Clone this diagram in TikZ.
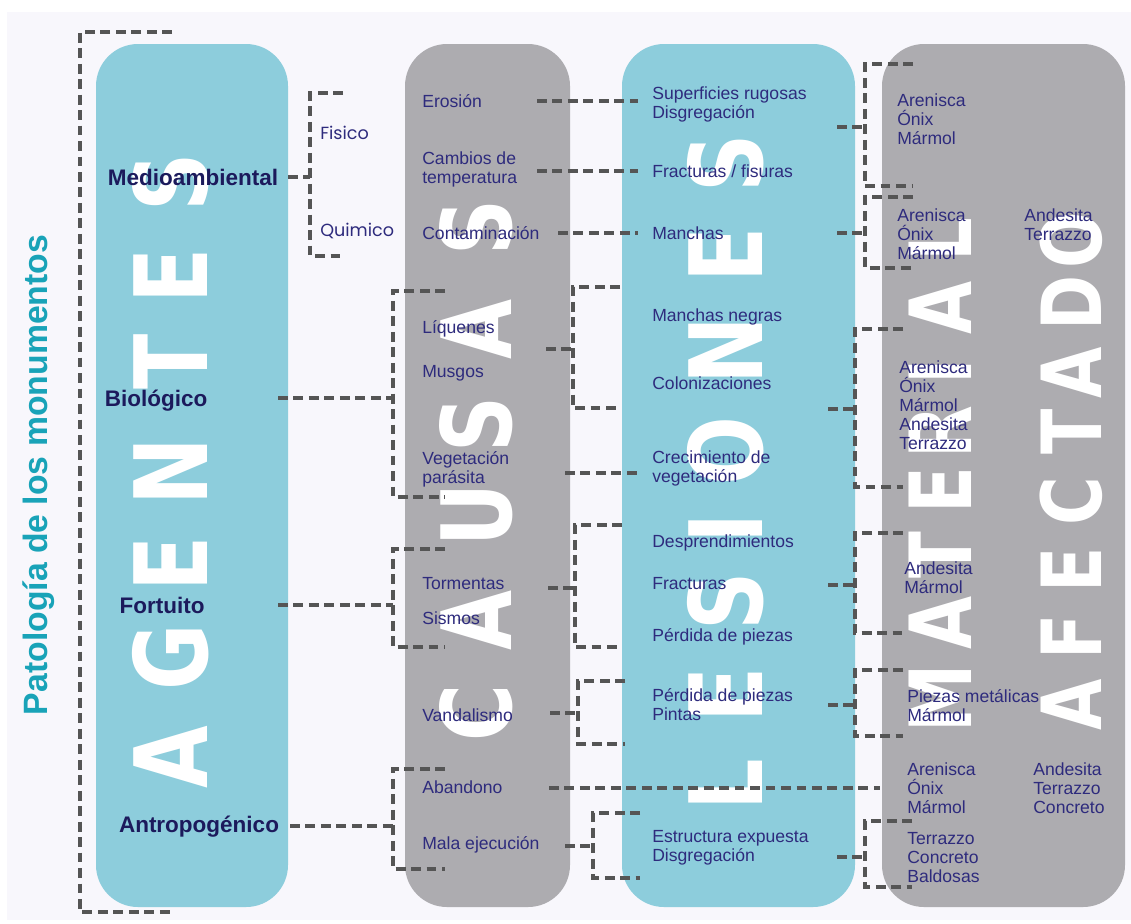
\documentclass[tikz,border=0pt]{standalone}
\usepackage{fontspec}
\setmainfont{Liberation Sans}
\newfontfamily\popfont{Poppins}
\newfontfamily\heavyfont{DejaVu Sans}
\definecolor{colblue}{HTML}{8DCDDC}
\definecolor{colgray}{HTML}{ADACB0}
\definecolor{pagebg}{HTML}{F8F7FC}
\definecolor{dashgray}{HTML}{555555}
\definecolor{agentink}{HTML}{1C1A5C}
\definecolor{labelink}{HTML}{2E2B7D}
\definecolor{titleteal}{HTML}{19A3B8}

\begin{document}
\begin{tikzpicture}[
  x=0.025cm, y=-0.025cm,
  col/.style={rounded corners=1.05cm},
  lbl/.style={anchor=west, align=left, inner sep=0pt, text=labelink,
    font=\fontsize{12.5}{13.5}\selectfont},
  agent/.style={anchor=base, inner sep=0pt, text=agentink,
    font=\bfseries\fontsize{16}{18}\selectfont},
  big/.style={rotate=90, xscale=0.8, anchor=base, inner sep=0pt, text=white},
  dashline/.style={draw=dashgray, line width=2.4pt, dash pattern=on 7pt off 4pt},
]
  \useasboundingbox (0,0) rectangle (1131,923);
  \fill[pagebg] (7,12) rectangle (1131,920);

  \fill[colblue, col] (96,44)  rectangle (288,907);
  \fill[colgray, col] (405,44) rectangle (570,907);
  \fill[colblue, col] (622,44) rectangle (855,907);
  \fill[colgray, col] (882,44) rectangle (1125,907);

  \foreach \l/\y [count=\i] in {A/757,G/657,E/564,N/472,T/362,E/276,S/182}
    \node[big, font=\heavyfont\bfseries\fontsize{72}{72}\selectfont] (ag\i) at (207,\y) {\l};
  \foreach \l/\y [count=\i] in {C/713,A/620,U/515,S/425,A/329,S/228}
    \node[big, font=\heavyfont\bfseries\fontsize{69}{69}\selectfont] (ca\i) at (511,\y) {\l};
  \foreach \l/\y [count=\i] in {L/785,E/695,S/601,I/528,O/451,N/351,E/255,S/163}
    \node[big, font=\heavyfont\bfseries\fontsize{72}{72}\selectfont] (le\i) at (762,\y) {\l};
  \foreach \l/\y [count=\i] in {M/698,A/623,T/555,E/490,R/432,I/372,A/308,L/240}
    \node[big, font=\heavyfont\bfseries\fontsize{61}{61}\selectfont] (ma\i) at (971,\y) {\l};
  \foreach \l/\y [count=\i] in {A/705,F/637,E/570,C/501,T/432,A/373,D/303,O/240}
    \node[big, font=\heavyfont\bfseries\fontsize{59}{59}\selectfont] (af\i) at (1101,\y) {\l};

  \node[rotate=90, anchor=base, inner sep=0pt, text=titleteal,
    font=\bfseries\fontsize{24}{24}\selectfont] (title) at (48,475) {Patología de los monumentos};

  \node[agent] (medio) at (193,185) {Medioambiental};
  \node[agent] (bio)   at (156,406) {Biológico};
  \node[agent] (fort)  at (162,613) {Fortuito};
  \node[agent] (antro) at (199,832) {Antropogénico};

  \node[lbl, font=\popfont\fontsize{12.5}{13.5}\selectfont] (fis) at (320,133) {Fisico};
  \node[lbl, font=\popfont\fontsize{12.5}{13.5}\selectfont] (qui) at (320,231) {Quimico};

  \node[lbl] (eros)  at (422,101)   {Erosión};
  \node[lbl] (camb)  at (422,169.5) {Cambios de\\temperatura};
  \node[lbl] (cont)  at (422,233)   {Contaminación};
  \node[lbl] (liq)   at (422,329)   {Líquenes};
  \node[lbl] (mus)   at (422,373)   {Musgos};
  \node[lbl] (veg)   at (422,469)   {Vegetación\\parásita};
  \node[lbl] (torm)  at (422,584)   {Tormentas};
  \node[lbl] (sism)  at (422,618)   {Sismos};
  \node[lbl] (vand)  at (422,715)   {Vandalismo};
  \node[lbl] (aban)  at (422,787)   {Abandono};
  \node[lbl] (mala)  at (422,845)   {Mala ejecución};

  \node[lbl] (sup)   at (652,104.5) {Superficies rugosas\\Disgregación};
  \node[lbl] (frfi)  at (652,171)   {Fracturas / fisuras};
  \node[lbl] (man)   at (652,233)   {Manchas};
  \node[lbl] (mneg)  at (652,317)   {Manchas negras};
  \node[lbl] (colo)  at (652,383)   {Colonizaciones};
  \node[lbl] (crec)  at (652,468.5) {Crecimiento de\\vegetación};
  \node[lbl] (desp)  at (652,543)   {Desprendimientos};
  \node[lbl] (frac)  at (652,584)   {Fracturas};
  \node[lbl] (perd)  at (652,637)   {Pérdida de piezas};
  \node[lbl] (perdp) at (652,705)   {Pérdida de piezas\\Pintas};
  \node[lbl] (estr)  at (652,847.5) {Estructura expuesta\\Disgregación};

  \node[lbl] (mat1)  at (897,119)   {Arenisca\\Ónix\\Mármol};
  \node[lbl] (mat2)  at (897,234)   {Arenisca\\Ónix\\Mármol};
  \node[lbl] (mat2b) at (1024,224.5) {Andesita\\Terrazzo};
  \node[lbl] (mat3)  at (899,405)   {Arenisca\\Ónix\\Mármol\\Andesita\\Terrazzo};
  \node[lbl] (mat4)  at (904,577.5) {Andesita\\Mármol};
  \node[lbl] (mat5)  at (907,705.5) {Piezas metálicas\\Mármol};
  \node[lbl] (mat6)  at (907,788)   {Arenisca\\Ónix\\Mármol};
  \node[lbl] (mat6b) at (1033,788)  {Andesita\\Terrazzo\\Concreto};
  \node[lbl] (mat7)  at (907,858)   {Terrazzo\\Concreto\\Baldosas};

  \draw[dashline] (172,32) -- (80,32) -- (80,912) -- (172,912);

  \draw[dashline] (288,177) -- (310,177);
  \draw[dashline] (343,93) -- (310,93) -- (310,256) -- (343,256);
  \draw[dashline] (eros -| 537,0) -- (eros -| 638,0);
  \draw[dashline] (frfi -| 537,0) -- (frfi -| 638,0);
  \draw[dashline] (cont -| 558,0) -- (cont -| 638,0);

  \draw[dashline] (278,398) -- (393,398);
  \draw[dashline] (445,291) -- (393,291) -- (393,497) -- (445,497);
  \draw[dashline] (546,349) -- (573,349);
  \draw[dashline] (620,287) -- (573,287) -- (573,408) -- (620,408);
  \draw[dashline] (565,473) -- (637,473);

  \draw[dashline] (278,605) -- (393,605);
  \draw[dashline] (445,549) -- (393,549) -- (393,647) -- (445,647);
  \draw[dashline] (548,588) -- (575,588);
  \draw[dashline] (622,525) -- (575,525) -- (575,647) -- (622,647);
  \draw[dashline] (550,713) -- (578,713);
  \draw[dashline] (625,681) -- (578,681) -- (578,744) -- (625,744);

  \draw[dashline] (290,826) -- (393,826);
  \draw[dashline] (445,769) -- (393,769) -- (393,869) -- (445,869);
  \draw[dashline] (549,788) -- (880,788);
  \draw[dashline] (565,846) -- (593,846);
  \draw[dashline] (640,813) -- (593,813) -- (593,878) -- (640,878);

  \draw[dashline] (837,127) -- (865,127);
  \draw[dashline] (913,64) -- (865,64) -- (865,186) -- (913,186);
  \draw[dashline] (man -| 837,0) -- (man -| 865,0);
  \draw[dashline] (913,197) -- (865,197) -- (865,268) -- (913,268);
  \draw[dashline] (828,409) -- (855,409);
  \draw[dashline] (903,329) -- (855,329) -- (855,487) -- (903,487);
  \draw[dashline] (828,585) -- (855,585);
  \draw[dashline] (903,533) -- (855,533) -- (855,633) -- (903,633);
  \draw[dashline] (perdp -| 828,0) -- (perdp -| 855,0);
  \draw[dashline] (903,670) -- (855,670) -- (855,736) -- (903,736);
  \draw[dashline] (837,857) -- (865,857);
  \draw[dashline] (912,821) -- (865,821) -- (865,887) -- (912,887);
\end{tikzpicture}
\end{document}
